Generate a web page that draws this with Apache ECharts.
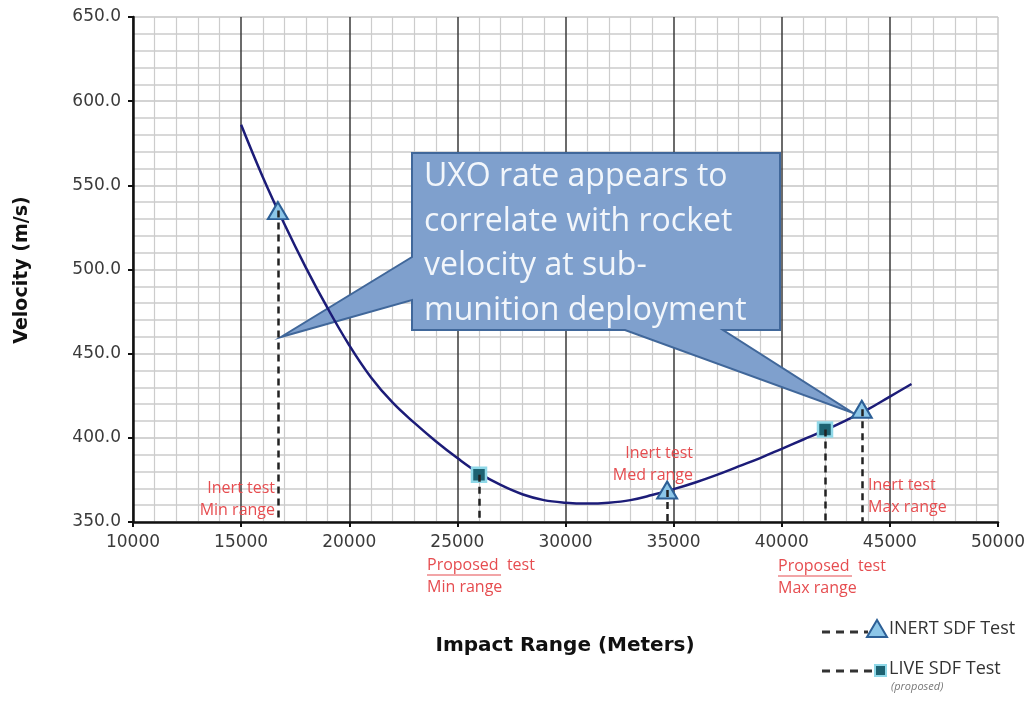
<!DOCTYPE html>
<html>
<head>
<meta charset="utf-8">
<script src="https://cdn.jsdelivr.net/npm/echarts@6/dist/echarts.min.js"></script>
<style>html,body{margin:0;padding:0;background:#fff;}#c{width:1033px;height:702px;}</style>
</head>
<body>
<div id="c"></div>
<script>
// ---- data ----
const curveX = [15000,16000,17000,18000,19000,20000,21000,22000,23000,24000,25000,26000,27000,28000,29000,30000,31000,32000,33000,34000,35000,36000,37000,38000,39000,40000,41000,42000,43000,44000,45000,46000];
const curveY = [586,555,527,501,477,455,436,421,409,398,388,379,372,366.5,363,361.5,361,361.5,363,366,369.5,373.5,378,383,388,393.5,399,404.5,410.5,417,424.5,432];
const inertX = [16700, 34700, 43700];
const inertY = [535, 369, 417];
const liveX = [26000, 42000];
const liveY = [378, 405];
const xMin = 10000, xMax = 50000, xStep = 5000;
const yMin = 350, yMax = 650, yStep = 50;
const calloutLines = ['UXO rate appears to', 'correlate with rocket', 'velocity at sub-', 'munition deployment'];
const legendNames = ['INERT SDF Test', 'LIVE SDF Test', '(proposed)'];

const chart = echarts.init(document.getElementById('c'), null, {renderer: 'canvas'});

const red = '#e64d50';
const labelFont = '"Open Sans", sans-serif';
function redText(x, y, text, align) {
  return {type: 'text', z: 1, x: x, y: y,
    style: {text: text, fill: red, font: '16px ' + labelFont, align: align || 'left', verticalAlign: 'middle'}};
}
function drops(xs, ys) {
  return xs.map((x, i) => [{coord: [x, ys[i]]}, {coord: [x, yMin]}]);
}

const nLines = (xMax - xMin) / xStep + 1;
const vColors = [];
for (let i = 0; i < nLines; i++) vColors.push(i === nLines - 1 ? '#c8c8c8' : '#3a3a3a');

const calloutPts = [[412,153],[780,153],[780,330],[723,330],[853,413],[625,330],[412,330],[412,300],[281,337],[412,257]];

const graphics = [
  {type: 'polygon', z: 1, shape: {points: calloutPts},
    style: {fill: '#7fa0cd', stroke: '#40679a', lineWidth: 2}},
];
calloutLines.forEach((t, i) => {
  graphics.push({type: 'text', z: 1, x: 424, y: 177 + i * 44.5,
    style: {text: t, fill: '#f2f6fb', font: '32px ' + labelFont, verticalAlign: 'middle'}});
});
graphics.push(
  redText(275, 488, 'Inert test', 'right'),
  redText(275, 510, 'Min range', 'right'),
  redText(427, 565, 'Proposed  test'),
  redText(427, 587, 'Min range'),
  redText(693, 453, 'Inert test', 'right'),
  redText(693, 475, 'Med range', 'right'),
  redText(778, 566, 'Proposed  test'),
  redText(778, 588, 'Max range'),
  redText(868, 485, 'Inert test'),
  redText(868, 507, 'Max range'),
  {type: 'line', z: 1, shape: {x1: 427, y1: 575, x2: 501, y2: 575}, style: {stroke: red, lineWidth: 1.2}},
  {type: 'line', z: 1, shape: {x1: 778, y1: 576, x2: 852, y2: 576}, style: {stroke: red, lineWidth: 1.2}},
  // legend
  {type: 'line', z: 1, shape: {x1: 822, y1: 632, x2: 868, y2: 632}, style: {stroke: '#333', lineWidth: 3, lineDash: [8, 6]}},
  {type: 'polygon', z: 1, shape: {points: [[877,620],[867,637],[887,637]]}, style: {fill: '#8cc6e8', stroke: '#2c5f96', lineWidth: 2}},
  {type: 'text', z: 1, x: 889, y: 629, style: {text: legendNames[0], fill: '#333', font: '18px ' + labelFont, verticalAlign: 'middle'}},
  {type: 'line', z: 1, shape: {x1: 822, y1: 671, x2: 874, y2: 671}, style: {stroke: '#333', lineWidth: 3, lineDash: [8, 6]}},
  {type: 'rect', z: 1, shape: {x: 875, y: 665, width: 11, height: 11}, style: {fill: '#1d6272', stroke: '#8fd8e8', lineWidth: 2}},
  {type: 'text', z: 1, x: 889, y: 669, style: {text: legendNames[1], fill: '#333', font: '18px ' + labelFont, verticalAlign: 'middle'}},
  {type: 'text', z: 1, x: 891, y: 687, style: {text: legendNames[2], fill: '#777', font: 'italic 11px ' + labelFont, verticalAlign: 'middle'}},
  // axis titles
  {type: 'text', z: 1, x: 22, y: 270, rotation: Math.PI / 2,
    style: {text: 'Velocity (m/s)', fill: '#111', font: 'bold 19px "DejaVu Sans", sans-serif', align: 'center', verticalAlign: 'middle'}},
  {type: 'text', z: 1, x: 565, y: 646,
    style: {text: 'Impact Range (Meters)', fill: '#111', font: 'bold 20px "DejaVu Sans", sans-serif', align: 'center', verticalAlign: 'middle'}}
);

chart.setOption({
  animation: false,
  backgroundColor: '#fff',
  grid: {left: 133, right: 35, top: 17, bottom: 180},
  xAxis: {
    type: 'value', min: xMin, max: xMax, interval: xStep,
    axisLine: {show: true, onZero: false, lineStyle: {color: '#111', width: 2.5}},
    axisTick: {show: true, length: 5, lineStyle: {color: '#111', width: 2}},
    axisLabel: {color: '#3a3a3a', fontFamily: 'DejaVu Sans', fontSize: 17, margin: 12, formatter: v => String(v)},
    splitLine: {show: true, lineStyle: {color: vColors, width: 1.5}},
    minorTick: {show: false, splitNumber: 5},
    minorSplitLine: {show: true, lineStyle: {color: '#cccccc', width: 1.2}}
  },
  yAxis: {
    type: 'value', min: yMin, max: yMax, interval: yStep,
    axisLine: {show: true, onZero: false, lineStyle: {color: '#111', width: 2.5}},
    axisTick: {show: true, length: 5, lineStyle: {color: '#111', width: 2}},
    axisLabel: {color: '#3a3a3a', fontFamily: 'DejaVu Sans', fontSize: 17, margin: 12, formatter: v => v.toFixed(1)},
    splitLine: {show: true, lineStyle: {color: '#c4c4c4', width: 1.5}},
    minorTick: {show: false, splitNumber: 5},
    minorSplitLine: {show: true, lineStyle: {color: '#cccccc', width: 1.5}}
  },
  series: [
    {
      type: 'line', z: 2, smooth: 0.4, symbol: 'none',
      data: curveX.map((x, i) => [x, curveY[i]]),
      lineStyle: {color: '#1c1c78', width: 2.5}
    },
    {
      type: 'scatter', z: 3, symbol: 'triangle', symbolSize: [20, 17],
      data: inertX.map((x, i) => [x, inertY[i]]),
      itemStyle: {color: '#8cc6e8', borderColor: '#2c5f96', borderWidth: 2, opacity: 1},
      markLine: {silent: true, symbol: ['none', 'none'], label: {show: false},
        lineStyle: {color: '#222', type: [7, 5], width: 2.5}, data: drops(inertX, inertY)}
    },
    {
      type: 'scatter', z: 3, symbol: 'rect', symbolSize: 14,
      data: liveX.map((x, i) => [x, liveY[i]]),
      itemStyle: {color: '#1d6272', borderColor: '#8fd8e8', borderWidth: 2.5, opacity: 1},
      markLine: {silent: true, symbol: ['none', 'none'], label: {show: false},
        lineStyle: {color: '#222', type: [7, 5], width: 2.5}, data: drops(liveX, liveY)}
    }
  ],
  graphic: graphics
});
</script>
</body>
</html>
